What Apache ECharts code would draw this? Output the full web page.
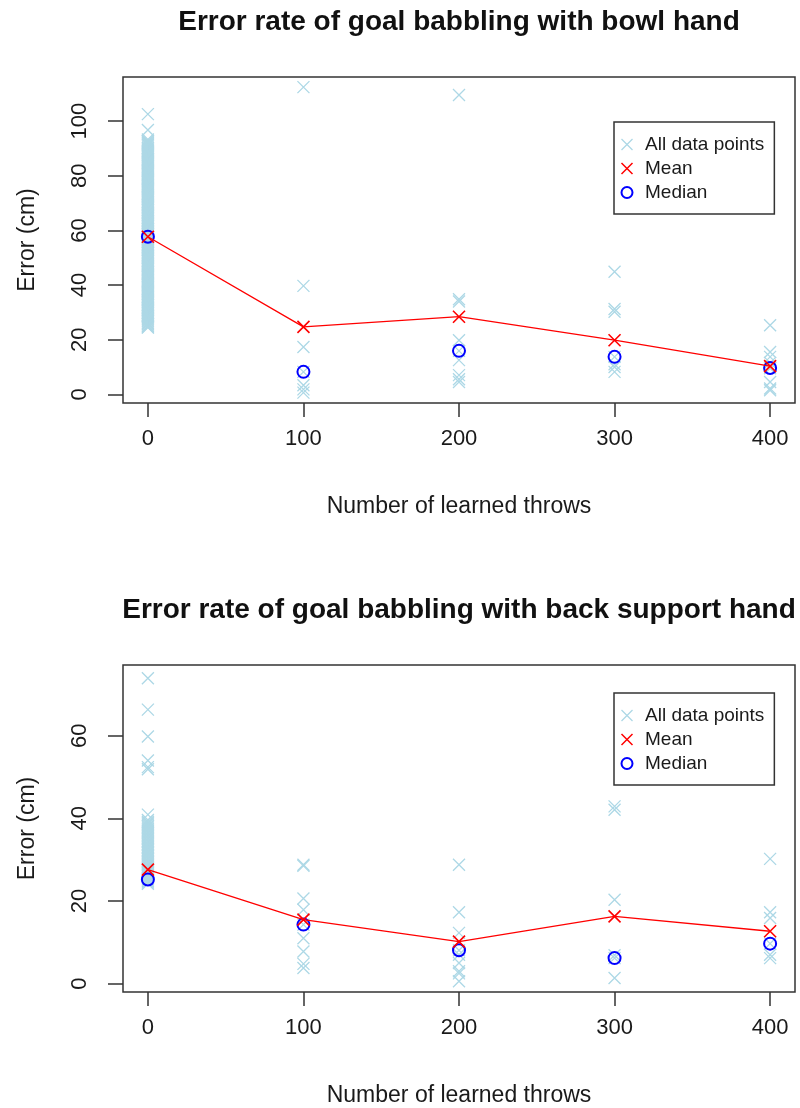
<!DOCTYPE html>
<html><head><meta charset="utf-8">
<script src="https://cdn.jsdelivr.net/npm/echarts@6/dist/echarts.min.js"></script>
<style>html,body{margin:0;padding:0;background:#fff}#c{width:800px;height:1108px}</style>
</head><body><div id="c"></div>
<script>
// ---- data ----
const xTicks = [0, 100, 200, 300, 400];
const bowlYTicks = [0, 20, 40, 60, 80, 100];
const backYTicks = [0, 20, 40, 60];

// Bowl hand: all data points per number of learned throws (x = 0 is a dense band)
const bowl0 = [102.6, 96.8, 93.3, 92.8, 92.5, 92.0, 91.6, 91.3, 90.8, 90.3, 90.0, 89.6, 89.1, 88.8, 88.3, 87.9, 87.6, 87.1, 86.7, 86.2, 85.9, 85.5, 85.0, 84.6, 84.3, 83.8, 83.4, 83.0, 82.6, 82.1, 81.8, 81.3, 80.9, 80.6, 80.1, 79.7, 79.2, 78.9, 78.4, 78.0, 77.7, 77.2, 76.8, 76.3, 76.0, 75.5, 75.1, 74.8, 74.3, 73.9, 73.4, 73.1, 72.6, 72.2, 71.9, 71.4, 71.0, 70.5, 70.2, 69.7, 69.3, 69.0, 68.5, 68.1, 67.6, 67.3, 66.8, 66.4, 66.1, 65.6, 65.2, 64.7, 64.4, 63.9, 63.5, 63.2, 62.7, 62.3, 61.8, 61.5, 61.0, 60.6, 60.3, 59.8, 59.4, 58.9, 58.6, 58.1, 57.7, 57.4, 56.9, 56.5, 56.0, 55.7, 55.2, 54.8, 54.5, 54.0, 53.6, 53.1, 52.8, 52.3, 51.9, 51.6, 51.1, 50.7, 50.2, 49.9, 49.4, 49.0, 48.7, 48.2, 47.8, 47.3, 47.0, 46.5, 46.1, 45.8, 45.3, 44.9, 44.4, 44.1, 43.6, 43.2, 42.9, 42.4, 42.0, 41.5, 41.2, 40.7, 40.3, 40.0, 39.5, 39.1, 38.6, 38.3, 37.8, 37.4, 37.1, 36.6, 36.2, 35.7, 35.4, 34.9, 34.5, 34.2, 33.7, 33.3, 32.8, 32.5, 32.0, 31.6, 31.3, 30.8, 30.4, 29.9, 29.6, 29.1, 28.7, 28.4, 27.9, 27.5, 27.0, 26.7, 26.2, 25.8, 25.5, 25.0, 24.6, 24.4];
const bowl100 = [112.5, 39.7, 17.3, 8.2, 3.3, 1.8, 0.6];
const bowl200 = [109.6, 34.8, 34.0, 19.8, 15.9, 12.5, 7.0, 5.5, 4.5];
const bowl300 = [44.9, 31.2, 30.2, 13.7, 11.0, 10.0, 8.2];
const bowl400 = [25.3, 15.5, 13.7, 11.5, 9.5, 4.5, 2.1, 1.5];
const bowlMean = [57.7, 24.7, 28.4, 19.8, 10.3];
const bowlMedian = [57.7, 8.2, 15.9, 13.7, 9.6];

// Back support hand
const back0 = [73.9, 66.3, 59.8, 54.0, 52.4, 51.9, 40.9, 39.6, 39.2, 38.8, 38.5, 38.1, 37.8, 37.4, 37.1, 36.7, 36.4, 36.0, 35.7, 35.3, 35.0, 34.6, 34.3, 33.9, 33.6, 33.2, 32.9, 32.5, 32.2, 31.8, 31.5, 31.1, 30.8, 30.4, 30.1, 29.7, 29.4, 29.0, 28.7, 28.3, 28.0, 27.6, 27.3, 26.9, 26.6, 26.2, 25.9, 25.5, 25.2, 24.8, 24.5, 24.2];
const back100 = [28.8, 28.5, 20.6, 17.9, 14.3, 11.0, 7.8, 4.8, 3.8];
const back200 = [28.8, 17.3, 12.3, 8.1, 7.0, 5.0, 3.0, 2.5, 0.6];
const back300 = [42.9, 42.1, 20.3, 6.9, 6.2, 1.4];
const back400 = [30.2, 17.3, 15.9, 9.7, 7.0, 6.2];
const backMean = [27.6, 15.5, 10.2, 16.3, 12.7];
const backMedian = [25.2, 14.3, 8.1, 6.2, 9.7];

const titles = ['Error rate of goal babbling with bowl hand', 'Error rate of goal babbling with back support hand'];
const xTitle = 'Number of learned throws';
const yTitle = 'Error (cm)';
const legendNames = ['All data points', 'Mean', 'Median'];

// ---- helpers ----
const FONT = "'Liberation Sans', Arial, Helvetica, sans-serif";
const XPATH = 'path://M0,0L10,10M10,0L0,10';
const LIGHT = '#ADD8E6', RED = '#FF0000', BLUE = '#0000FF';
function pairs(groups) {
  const out = [];
  groups.forEach((g, i) => g.forEach(v => out.push([xTicks[i], v])));
  return out;
}
function line(vals) { return vals.map((v, i) => [xTicks[i], v]); }

const grids = [
  {left: 123, right: 5, top: 77, height: 326},
  {left: 123, right: 5, top: 665, height: 327}
];
const yRanges = [[-3.2, 116.2], [-2.0, 77.1]];
const yTickSets = [bowlYTicks, backYTicks];
const allGroups = [[bowl0, bowl100, bowl200, bowl300, bowl400], [back0, back100, back200, back300, back400]];
const means = [bowlMean, backMean];
const medians = [bowlMedian, backMedian];

const option = {
  animation: false,
  backgroundColor: '#fff',
  textStyle: {fontFamily: FONT},
  grid: grids.map(g => Object.assign({show: true, borderColor: '#333', borderWidth: 1.5, backgroundColor: 'transparent'}, g)),
  xAxis: grids.map((g, i) => ({
    type: 'value', gridIndex: i, min: -16, max: 416,
    name: xTitle, nameLocation: 'middle', nameGap: 92,
    nameTextStyle: {fontSize: 23, color: '#1a1a1a', fontFamily: FONT},
    axisLine: {show: false, onZero: false},
    axisTick: {show: true, customValues: xTicks, length: 14, lineStyle: {color: '#333', width: 1.5}},
    axisLabel: {customValues: xTicks, fontSize: 22, color: '#1a1a1a', margin: 25, fontFamily: FONT},
    splitLine: {show: false}
  })),
  yAxis: grids.map((g, i) => ({
    type: 'value', gridIndex: i, min: yRanges[i][0], max: yRanges[i][1],
    name: yTitle, nameLocation: 'middle', nameGap: 84, nameRotate: 90,
    nameTextStyle: {fontSize: 23, color: '#1a1a1a', fontFamily: FONT},
    axisLine: {show: false, onZero: false},
    axisTick: {show: true, customValues: yTickSets[i], length: 15, lineStyle: {color: '#333', width: 1.5}},
    axisLabel: {customValues: yTickSets[i], rotate: 90, fontSize: 22, color: '#1a1a1a', margin: 32, fontFamily: FONT},
    splitLine: {show: false}
  })),
  legend: [122, 693].map(top => ({
    left: 614, top: top, orient: 'vertical', selectedMode: false,
    padding: [13, 10, 12, 5], itemWidth: 26, itemHeight: 11, itemGap: 5,
    borderColor: '#333', borderWidth: 1.5, backgroundColor: '#fff',
    textStyle: {fontSize: 19, lineHeight: 18, color: '#1a1a1a', fontFamily: FONT},
    data: [
      {name: legendNames[0], icon: XPATH, itemStyle: {color: 'none', borderColor: LIGHT, borderWidth: 1.3}},
      {name: legendNames[1], icon: XPATH, itemStyle: {color: 'none', borderColor: RED, borderWidth: 1.5}},
      {name: legendNames[2], icon: 'circle', itemStyle: {color: 'none', borderColor: BLUE, borderWidth: 2}}
    ]
  })),
  graphic: titles.map((t, i) => ({
    type: 'text', x: 459, y: i === 0 ? 22 : 610,
    style: {text: t, fill: '#111', font: 'bold 28px ' + FONT, textAlign: 'center', textVerticalAlign: 'middle'}
  })),
  series: []
};

[0, 1].forEach(i => {
  option.series.push({
    type: 'scatter', name: legendNames[0], xAxisIndex: i, yAxisIndex: i, silent: true,
    symbol: XPATH, symbolSize: 12,
    itemStyle: {color: 'none', borderColor: LIGHT, borderWidth: 1.3, opacity: 1},
    data: pairs(allGroups[i]), z: 2
  });
  option.series.push({
    type: 'line', name: legendNames[1], xAxisIndex: i, yAxisIndex: i, silent: true,
    symbol: XPATH, symbolSize: 12, showSymbol: true,
    lineStyle: {color: RED, width: 1.3},
    itemStyle: {color: RED, borderColor: RED, borderWidth: 1.6},
    data: line(means[i]), z: 4
  });
  option.series.push({
    type: 'scatter', name: legendNames[2], xAxisIndex: i, yAxisIndex: i, silent: true,
    symbol: 'circle', symbolSize: 12,
    itemStyle: {color: 'none', borderColor: BLUE, borderWidth: 2, opacity: 1},
    data: line(medians[i]), z: 3
  });
});

const chart = echarts.init(document.getElementById('c'), null, {renderer: 'canvas'});
chart.setOption(option);
</script>
</body></html>
